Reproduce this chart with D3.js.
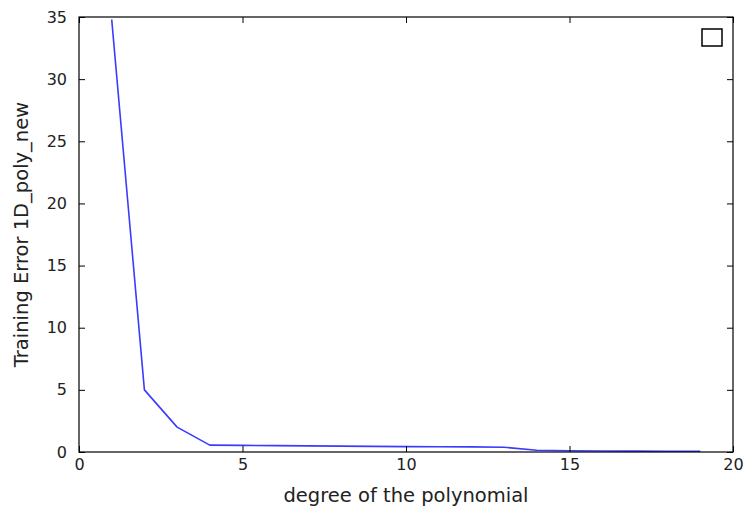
<!DOCTYPE html>
<html>
<head>
<meta charset="utf-8">
<script src="https://cdn.jsdelivr.net/npm/d3@7"></script>
<style>
  html, body { margin: 0; padding: 0; background: #fff; }
  svg { display: block; }
  text { font-family: "DejaVu Sans", sans-serif; fill: #222; }
</style>
</head>
<body>
<svg id="chart" width="744" height="508"></svg>
<script>
const degrees = [1, 2, 3, 4, 5, 6, 7, 8, 9, 10, 11, 12, 13, 14, 15, 16, 17, 18, 19];
const trainingError = [34.8, 5.0, 2.0, 0.55, 0.53, 0.51, 0.49, 0.47, 0.45, 0.43, 0.42, 0.41, 0.38, 0.14, 0.1, 0.08, 0.07, 0.06, 0.05];
const xTicks = [0, 5, 10, 15, 20];
const yTicks = [0, 5, 10, 15, 20, 25, 30, 35];
const xLabel = "degree of the polynomial";
const yLabel = "Training Error 1D_poly_new";

const W = 744, H = 508;
const m = { left: 79, top: 17, right: 11, bottom: 56 };
const iw = W - m.left - m.right, ih = H - m.top - m.bottom;

const svg = d3.select("#chart");
const g = svg.append("g").attr("transform", `translate(${m.left},${m.top})`);

const x = d3.scaleLinear().domain([0, 20]).range([0, iw]);
const y = d3.scaleLinear().domain([0, 35]).range([ih, 0]);

svg.append("defs").append("clipPath").attr("id", "clip")
  .append("rect").attr("width", iw).attr("height", ih);

// line
const line = d3.line().x((d, i) => x(degrees[i])).y(d => y(d));
g.append("path")
  .datum(trainingError)
  .attr("clip-path", "url(#clip)")
  .attr("fill", "none")
  .attr("stroke", "#3b3bff")
  .attr("stroke-width", 1.6)
  .attr("stroke-linejoin", "round")
  .attr("d", line);

const tickLen = 6;
const fs = 16;
// axes with inward ticks
const xAxisB = d3.axisBottom(x).tickValues(xTicks).tickSize(-tickLen).tickPadding(7).tickFormat(d3.format("d"));
const xAxisT = d3.axisTop(x).tickValues(xTicks).tickSize(-tickLen).tickFormat("");
const yAxisL = d3.axisLeft(y).tickValues(yTicks).tickSize(-tickLen).tickPadding(12).tickFormat(d3.format("d"));
const yAxisR = d3.axisRight(y).tickValues(yTicks).tickSize(-tickLen).tickFormat("");

function style(sel) {
  sel.select(".domain").remove();
  sel.selectAll(".tick line").attr("stroke", "#000").attr("stroke-width", 1);
  sel.selectAll(".tick text").attr("font-size", fs).attr("font-family", "DejaVu Sans, sans-serif").attr("fill", "#222");
}
g.append("g").attr("transform", `translate(0,${ih})`).call(xAxisB).call(style);
g.append("g").call(xAxisT).call(style);
g.append("g").call(yAxisL).call(style);
g.append("g").attr("transform", `translate(${iw},0)`).call(yAxisR).call(style);

// frame
g.append("rect").attr("width", iw).attr("height", ih)
  .attr("fill", "none").attr("stroke", "#000").attr("stroke-width", 1.2);

// empty legend box
g.append("rect")
  .attr("x", iw - 31).attr("y", 12).attr("width", 20).attr("height", 17)
  .attr("fill", "#fff").attr("stroke", "#000").attr("stroke-width", 1.5);

// axis labels
svg.append("text")
  .attr("x", m.left + iw / 2).attr("y", 502)
  .attr("text-anchor", "middle").attr("font-size", 19.5)
  .text(xLabel);
svg.append("text")
  .attr("transform", `translate(${28},${m.top + ih / 2}) rotate(-90)`)
  .attr("text-anchor", "middle").attr("font-size", 19.5)
  .text(yLabel);
</script>
</body>
</html>
